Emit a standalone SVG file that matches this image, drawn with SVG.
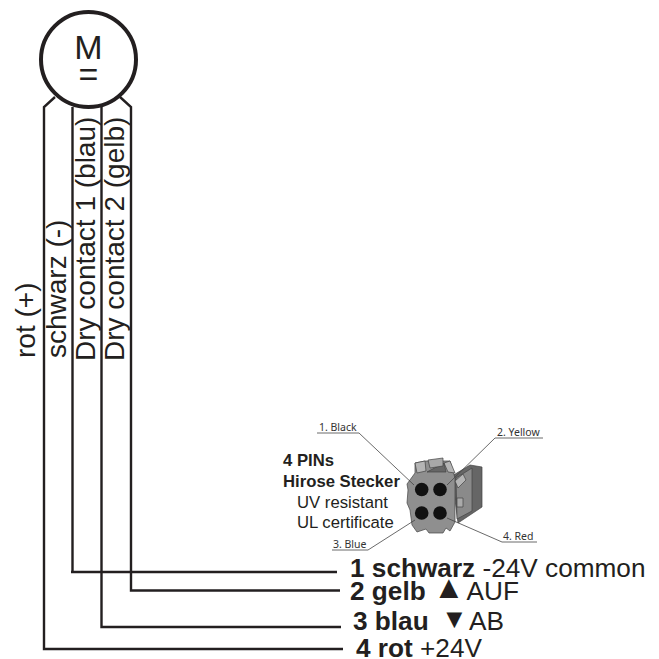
<svg xmlns="http://www.w3.org/2000/svg" width="659" height="659" viewBox="0 0 659 659">
<style>
text{font-family:"Liberation Sans",Arial,sans-serif;fill:#231f20}
.big{font-size:26.200px}
.rot{font-size:28px}
.b{font-weight:bold}
.mid{font-size:16.700px}
.sm{font-family:"Noto Sans","Liberation Sans",sans-serif;font-size:10.500px;fill:#333}
.w{fill:none;stroke:#231f20;stroke-width:2.400}
.lead{fill:none;stroke:#444;stroke-width:.8}
.edge{stroke:#444;stroke-width:.7;stroke-linejoin:round}
</style>
<rect width="659" height="659" fill="#fff"/>
<g id="connectors">
<path class="w" d="M55 97 44 107V649H343"/>
<path class="w" d="M72.500 107V572M71 572H337"/>
<path class="w" d="M101.500 107V627H341"/>
<path class="w" d="M120 97 131 107V590.500H340"/>
</g>
<g id="motor">
<circle cx="88.500" cy="59.500" r="47.500" fill="#fff" stroke="#231f20" stroke-width="4"/>
<text text-anchor="middle" font-size="34"><tspan x="88.500" y="59">M</tspan><tspan x="88.500" y="86">=</tspan></text>
</g>
<g id="wire-labels">
<text class="rot" transform="translate(35 358) rotate(-90)">rot (+)</text>
<text class="rot" transform="translate(66 358) rotate(-90)">schwarz (-)</text>
<text class="rot" transform="translate(95 361) rotate(-90)">Dry contact 1 (blau)</text>
<text class="rot" transform="translate(123.500 361) rotate(-90)">Dry contact 2 (gelb)</text>
</g>
<g id="plug">
<path class="edge" fill="#666" d="M452 476 470 465 482 467V507L458 523Z"/>
<path class="edge" fill="#8a8a8a" d="M456 478 472 468V511L457 519Z"/>
<path class="edge" fill="#8f8f8f" d="M415 463 425 461H450L455 478V522L450 531 446 528 443 533H429L426 529 417 532 412 525 410 510 407 503 408 490 407 484 415 473Z"/>
<path class="edge" fill="#b5b5b5" d="M415 463 425 461 426 471 417 473Z"/>
<path class="edge" fill="#b5b5b5" d="M444 463 450 461 455 473 448 472Z"/>
<path class="edge" fill="#666" d="M427 472 444 463 446 472Z"/>
<path class="edge" fill="#a8a8a8" d="M428 460 443 458V466L430 468Z"/>
<path class="edge" fill="#b5b5b5" d="M455 481 463 474 466 480 458 488Z"/>
<rect class="edge" x="457" y="498" width="6" height="9" fill="#aaa"/>
<circle cx="421.700" cy="489.500" r="6.800" fill="#111"/>
<circle cx="440" cy="489.500" r="6.800" fill="#111"/>
<circle cx="421.700" cy="513" r="6.800" fill="#111"/>
<circle cx="440" cy="513" r="6.800" fill="#111"/>
</g>
<g id="plug-leaders">
<path class="lead" d="M317 433H359L414 485"/>
<path class="lead" d="M543 438H495L447 485"/>
<path class="lead" d="M332 550H368L415 520"/>
<path class="lead" d="M537 542H502L447 518"/>
</g>
<g id="plug-labels">
<text class="sm" x="319" y="431">1. Black</text>
<text class="sm" x="497" y="436">2. Yellow</text>
<text class="sm" x="333" y="548">3. Blue</text>
<text class="sm" x="503" y="540">4. Red</text>
<text class="mid b" x="283" y="466">4 PINs</text>
<text class="mid b" x="283" y="487">Hirose Stecker</text>
<text class="mid" x="297" y="507.500">UV resistant</text>
<text class="mid" x="297" y="528">UL certificate</text>
</g>
<g id="pin-1"><text class="big" x="350" y="576.500"><tspan class="b">1 schwarz</tspan> -24V common</text></g>
<g id="pin-2"><text class="big" x="350" y="600"><tspan class="b">2 gelb</tspan> <tspan x="433" y="598" font-size="32">▲</tspan><tspan x="466.500" y="600">AUF</tspan></text></g>
<g id="pin-3"><text class="big" x="353" y="630"><tspan class="b">3 blau</tspan> <tspan x="441" y="628" font-size="27">▼</tspan><tspan x="469" y="630">AB</tspan></text></g>
<g id="pin-4"><text class="big" x="356" y="656.500"><tspan class="b">4 rot</tspan> +24V</text></g>
</svg>
